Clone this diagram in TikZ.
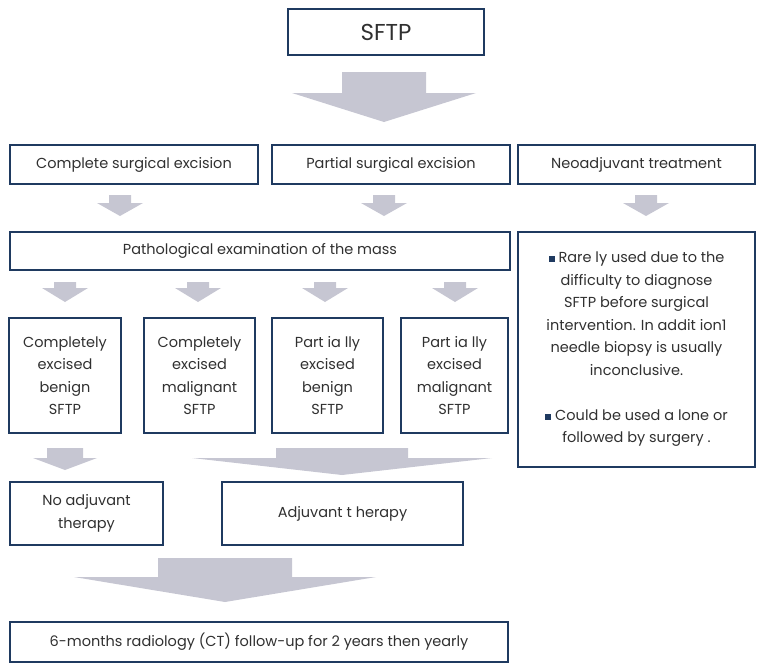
\documentclass[tikz,border=0pt]{standalone}
\usepackage{fontspec}
\setmainfont{Poppins}
\definecolor{navy}{HTML}{1F3A60}
\definecolor{arrowgray}{HTML}{C6C6D2}
\definecolor{txt}{HTML}{303030}
\newcommand{\blockarrow}[7]{% cx, top, stemhalf, neck, headhalf, tip, name
  \fill[arrowgray] (#1-#3,#2) -- (#1+#3,#2) -- (#1+#3,#4) -- (#1+#5,#4) -- (#1,#6) -- (#1-#5,#4) -- (#1-#3,#4) -- cycle;
  \coordinate (#7) at (#1,#6);}
\newcommand{\sqbullet}{{\color{navy}\rule[0.5pt]{6pt}{6pt}}\hspace{4pt}}
\tikzset{
  box/.style={draw=navy, line width=1.4pt, inner sep=0pt, text=txt, align=center,
    font=\fontsize{14.5}{22.5}\selectfont},
}
\begin{document}
\begin{tikzpicture}[x=1pt,y=-1pt]
\useasboundingbox (0,0) rectangle (757,664);
% boxes
\node[box, minimum width=196pt, minimum height=46pt, font=\fontsize{23}{26}\selectfont] (sftp) at (386,32) {SFTP};
\node[box, minimum width=248pt, minimum height=39pt] (ce) at (134,164.5) {Complete surgical excision};
\node[box, minimum width=238pt, minimum height=39pt] (pe) at (391,164.5) {Partial surgical excision};
\node[box, minimum width=237pt, minimum height=39pt] (na) at (636.5,164.5) {Neoadjuvant treatment};
\node[box, minimum width=500pt, minimum height=38pt] (path) at (260,251) {Pathological examination of the mass};
\node[box, minimum width=237pt, minimum height=235pt] (note) at (636.5,349.5)
  {\sqbullet Rare ly used due to the\\ difficulty to diagnose\\ SFTP before surgical\\ intervention. In addit ion1\\ needle biopsy is usually\\ inconclusive.\\[22.5pt]
   \sqbullet Could be used a lone or\\ followed by surgery .};
\node[box, minimum width=112pt, minimum height=115pt] (b1) at (65,375.5) {Completely\\excised\\benign\\SFTP};
\node[box, minimum width=111pt, minimum height=115pt] (b2) at (199.5,375.5) {Completely\\excised\\malignant\\SFTP};
\node[box, minimum width=111pt, minimum height=115pt] (b3) at (327.5,375.5) {Part ia lly\\excised\\benign\\SFTP};
\node[box, minimum width=107pt, minimum height=115pt] (b4) at (454.5,375.5) {Part ia lly\\excised\\malignant\\SFTP};
\node[box, minimum width=153pt, minimum height=63pt] (noadj) at (86.5,513.5) {No adjuvant\\therapy};
\node[box, minimum width=241pt, minimum height=63pt] (adj) at (342.5,513.5) {Adjuvant t herapy};
\node[box, minimum width=498pt, minimum height=40pt] (fu) at (259,642) {6-months radiology (CT) follow-up for 2 years then yearly};
% block arrows
\blockarrow{384}{72}{42}{93}{92}{122}{a1}
\blockarrow{120}{195}{11}{203}{23}{216}{a2}
\blockarrow{384}{195}{11}{203}{23}{216}{a3}
\blockarrow{646}{195}{11}{203}{23}{216}{a4}
\blockarrow{65}{282}{11}{288}{23}{302}{a5}
\blockarrow{198}{282}{11}{288}{23}{302}{a6}
\blockarrow{325}{282}{11}{288}{23}{302}{a7}
\blockarrow{455}{282}{11}{288}{23}{302}{a8}
\blockarrow{65}{448}{18}{458}{32}{470}{a9}
\blockarrow{342}{448}{66}{458}{150}{475}{a10}
\blockarrow{225}{558}{67}{577}{151}{602}{a11}
\end{tikzpicture}
\end{document}
